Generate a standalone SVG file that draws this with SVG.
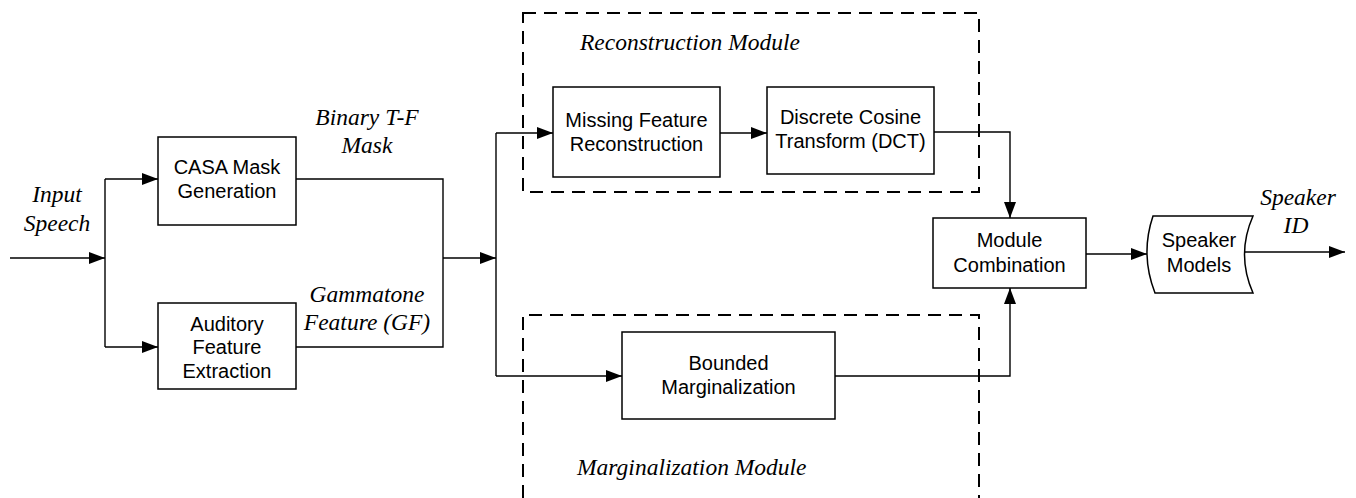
<svg xmlns="http://www.w3.org/2000/svg" width="1356" height="498" viewBox="0 0 1356 498">
<defs>
<marker id="arr" markerUnits="userSpaceOnUse" markerWidth="17" markerHeight="12" refX="16" refY="6" orient="auto">
<path d="M0,0 L16,6 L0,12 z" fill="#000"/>
</marker>
<style>
.box{fill:#fff;stroke:#000;stroke-width:1.5}
.t{font-family:"Liberation Sans",Arial,sans-serif;font-size:20px;text-anchor:middle;fill:#000}
.lab{font-family:"Liberation Serif","Times New Roman",serif;font-style:italic;font-size:23.5px;text-anchor:middle;fill:#000}
.labs{font-family:"Liberation Serif","Times New Roman",serif;font-style:italic;font-size:23.5px;fill:#000}
.ln{fill:none;stroke:#000;stroke-width:1.4}
.dash{fill:none;stroke:#000;stroke-width:2;stroke-dasharray:13 8}
</style>
</defs>
<rect width="1356" height="498" fill="#fff"/>

<g id="reconstruction-module">
<rect class="dash" x="523" y="13" width="456" height="179"/>
<text class="labs" x="580" y="50">Reconstruction Module</text>
</g>
<g id="marginalization-module">
<path class="dash" d="M523,498 V315 H979 V498"/>
<text class="labs" x="577" y="475">Marginalization Module</text>
</g>

<g id="connectors">
<path class="ln" d="M10,258 H105" marker-end="url(#arr)"/>
<path class="ln" d="M105,179 V347"/>
<path class="ln" d="M105,179 H158" marker-end="url(#arr)"/>
<path class="ln" d="M105,347 H158" marker-end="url(#arr)"/>
<path class="ln" d="M296,179 H443 V347 H296"/>
<path class="ln" d="M443,258 H496" marker-end="url(#arr)"/>
<path class="ln" d="M496,133 V376"/>
<path class="ln" d="M496,133 H553" marker-end="url(#arr)"/>
<path class="ln" d="M496,376 H622" marker-end="url(#arr)"/>
<path class="ln" d="M720,133 H767" marker-end="url(#arr)"/>
<path class="ln" d="M934,132 H1010 V218" marker-end="url(#arr)"/>
<path class="ln" d="M835,376 H1010 V288" marker-end="url(#arr)"/>
<path class="ln" d="M1086,254 H1147" marker-end="url(#arr)"/>
<path class="ln" d="M1243,252 H1345" marker-end="url(#arr)"/>
</g>

<g id="input-label">
<text class="lab" x="57" y="202">Input</text>
<text class="lab" x="57" y="231">Speech</text>
</g>
<g id="binary-label">
<text class="lab" x="367" y="125">Binary T-F</text>
<text class="lab" x="367" y="153">Mask</text>
</g>
<g id="gammatone-label">
<text class="lab" x="367" y="302">Gammatone</text>
<text class="lab" x="367" y="330">Feature (GF)</text>
</g>
<g id="speaker-id-label">
<text class="lab" x="1298" y="205">Speaker</text>
<text class="lab" x="1296" y="233">ID</text>
</g>

<g id="casa">
<rect class="box" x="158" y="137" width="138" height="88"/>
<text class="t" x="227" y="174">CASA Mask</text>
<text class="t" x="227" y="198">Generation</text>
</g>
<g id="auditory">
<rect class="box" x="158" y="303" width="138" height="86"/>
<text class="t" x="227" y="331">Auditory</text>
<text class="t" x="227" y="354">Feature</text>
<text class="t" x="227" y="378">Extraction</text>
</g>
<g id="missing-feature">
<rect class="box" x="553" y="87" width="167" height="90"/>
<text class="t" x="636.5" y="127">Missing Feature</text>
<text class="t" x="636.5" y="151">Reconstruction</text>
</g>
<g id="dct">
<rect class="box" x="767" y="87" width="167" height="87"/>
<text class="t" x="850.5" y="124">Discrete Cosine</text>
<text class="t" x="850.5" y="148">Transform (DCT)</text>
</g>
<g id="bounded">
<rect class="box" x="622" y="332" width="213" height="87"/>
<text class="t" x="728.5" y="370">Bounded</text>
<text class="t" x="728.5" y="394">Marginalization</text>
</g>
<g id="module-combination">
<rect class="box" x="933" y="218" width="153" height="70"/>
<text class="t" x="1009.5" y="247">Module</text>
<text class="t" x="1009.5" y="272">Combination</text>
</g>
<g id="speaker-models">
<path class="box" d="M1153,216 H1253 Q1236,254.5 1253,293 H1155 Q1140,254.5 1153,216 Z"/>
<text class="t" x="1199" y="247">Speaker</text>
<text class="t" x="1199" y="272">Models</text>
</g>
</svg>
